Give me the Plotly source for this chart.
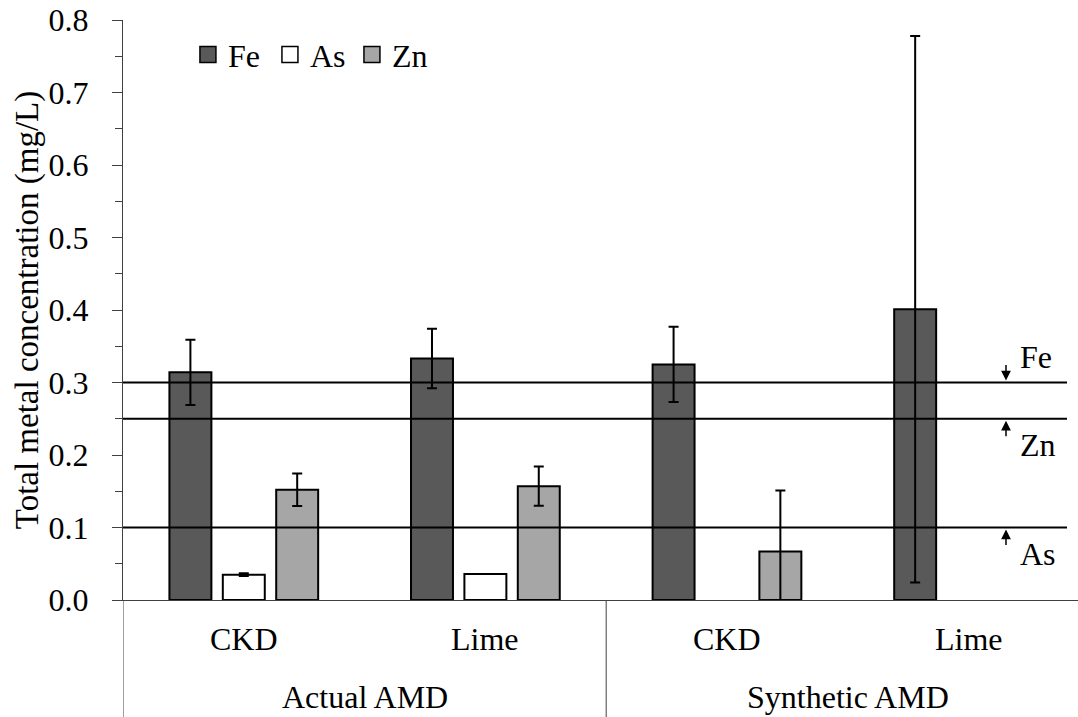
import plotly.graph_objects as go

# ---- data ----
groups = ["Actual AMD", "Actual AMD", "Synthetic AMD", "Synthetic AMD"]
treatments = ["CKD", "Lime", "CKD", "Lime"]
fe_values = [0.314, 0.333, 0.325, 0.401]
fe_errors = [0.045, 0.041, 0.052, 0.377]
as_values = [0.035, 0.036, None, None]
as_errors = [0.002, 0.0, None, None]
zn_values = [0.152, 0.157, 0.067, None]
zn_errors = [0.0225, 0.027, 0.084, None]
threshold_names = ["Fe", "Zn", "As"]
threshold_values = [0.30, 0.25, 0.10]
threshold_dirs = ["down", "up", "up"]
y_ticks = [0.0, 0.1, 0.2, 0.3, 0.4, 0.5, 0.6, 0.7, 0.8]

FONT = "Liberation Serif"
positions = list(range(len(treatments)))

fig = go.Figure()
series = [
    ("Fe", fe_values, fe_errors, "#595959"),
    ("As", as_values, as_errors, "#ffffff"),
    ("Zn", zn_values, zn_errors, "#a6a6a6"),
]
for name, vals, errs, col in series:
    fig.add_trace(go.Bar(
        name=name, x=positions, y=vals, legendgroup=name, showlegend=False,
        marker=dict(color=col, line=dict(color="#000000", width=2)),
        error_y=dict(type="data", array=errs, visible=True,
                     color="#000000", thickness=2, width=5),
    ))
# legend entries (square swatches)
for name, vals, errs, col in series:
    fig.add_trace(go.Scatter(
        name=name, x=[None], y=[None], mode="markers", legendgroup=name,
        marker=dict(symbol="square", size=16, color=col,
                    line=dict(color="#000000", width=1.5)),
        hoverinfo="skip",
    ))

# threshold lines
for tv in threshold_values:
    fig.add_shape(type="line", xref="paper", yref="y", x0=0, x1=0.9885,
                  y0=tv, y1=tv, line=dict(color="#000000", width=2))

# threshold labels and arrows
for nm, tv, d in zip(threshold_names, threshold_values, threshold_dirs):
    sgn = -1 if d == "down" else 1
    fig.add_annotation(xref="paper", yref="y", x=0.9246, y=tv,
                       ax=0, ay=19 * sgn, text="", showarrow=True,
                       arrowhead=2, arrowsize=1.3, arrowwidth=1.5,
                       arrowcolor="#000000", standoff=2)
    fig.add_annotation(xref="paper", yref="y", x=0.937, y=tv, yshift=-26 * sgn,
                       text=nm, showarrow=False, xanchor="left",
                       yanchor="middle", font=dict(family=FONT, size=32, color="#000"))

# category labels
for p, t in zip(positions, treatments):
    fig.add_annotation(xref="x", yref="paper", x=p, y=-0.068, text=t,
                       showarrow=False, yanchor="middle",
                       font=dict(family=FONT, size=32, color="#000"))
group_names = []
for g in groups:
    if g not in group_names:
        group_names.append(g)
for gname in group_names:
    idx = [i for i, g in enumerate(groups) if g == gname]
    cx = sum(positions[i] for i in idx) / len(idx)
    fig.add_annotation(xref="x", yref="paper", x=cx, y=-0.167, text=gname,
                       showarrow=False, yanchor="middle",
                       font=dict(family=FONT, size=32, color="#000"))

# separators in the category axis
for sx in [-0.5, 1.5]:
    fig.add_shape(type="line", xref="x", yref="paper", x0=sx, x1=sx,
                  y0=0, y1=-0.21, line=dict(color="#404040", width=1))

fig.update_layout(
    width=1078, height=717,
    margin=dict(l=123, r=0, t=20, b=117),
    paper_bgcolor="white", plot_bgcolor="white",
    barmode="group", bargap=0.337, bargroupgap=0.214,
    font=dict(family=FONT, size=32, color="#000"),
    showlegend=True,
    legend=dict(orientation="h", x=0.068, y=0.94, xanchor="left", yanchor="middle",
                font=dict(family=FONT, size=32, color="#000"),
                bgcolor="rgba(0,0,0,0)", itemwidth=30, tracegroupgap=0,
                entrywidth=37, entrywidthmode="pixels"),
)
fig.update_xaxes(range=[-0.5, 3.453], showticklabels=False, ticks="",
                 showline=True, linecolor="#404040", linewidth=1,
                 showgrid=False, zeroline=False, fixedrange=True)
fig.update_yaxes(range=[0, 0.8], tickvals=y_ticks, tickformat=".1f",
                 ticks="outside", ticklen=10, tickcolor="#404040", tickwidth=1,
                 minor=dict(dtick=0.05, ticks="outside", ticklen=7,
                            tickcolor="#404040", tickwidth=1, showgrid=False),
                 showline=True, linecolor="#404040", linewidth=1,
                 showgrid=False, zeroline=False, ticklabelstandoff=17,
                 title=dict(text="Total metal concentration (mg/L)",
                            font=dict(family=FONT, size=33, color="#000"),
                            standoff=0),
                 tickfont=dict(family=FONT, size=32, color="#000"))

fig.write_html("out.html")
